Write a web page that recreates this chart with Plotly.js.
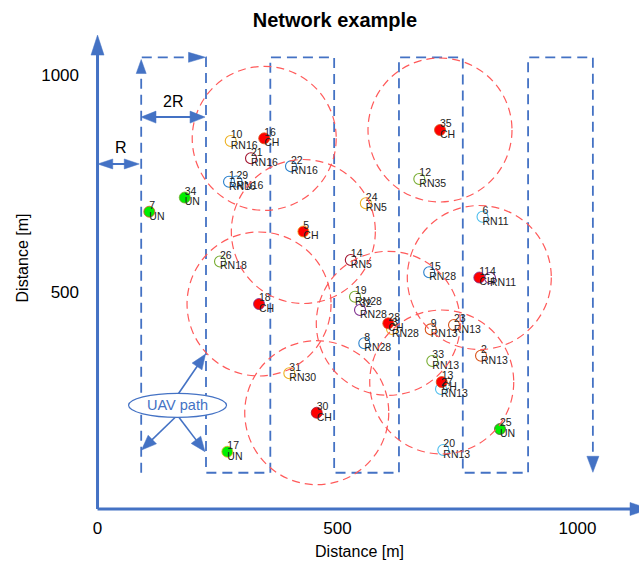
<!DOCTYPE html>
<html>
<head>
<meta charset="utf-8">
<script src="https://cdn.plot.ly/plotly-3.0.1.min.js"></script>
<style>html,body{margin:0;padding:0;background:#fff}#chart{width:639px;height:571px}</style>
</head>
<body>
<div id="chart"></div>
<script>
// ---------- data (metres) ----------
const nodeIds = [1,2,3,4,5,6,7,8,9,10,11,12,13,14,15,16,17,18,19,20,21,22,23,24,25,26,27,28,29,30,31,32,33,34,35];
const nodeX = [274.0,799.0,613.5,817.7,428.8,802.1,107.9,555.8,694.2,277.5,795.4,670.4,717.1,527.7,691.0,347.3,270.4,336.5,536.5,720.4,319.8,403.1,742.7,559.0,838.5,255.2,715.6,605.8,289.6,456.7,399.6,546.9,697.5,181.7,713.5];
const nodeY = [754.1,353.2,414.7,532.3,639.4,673.5,685.0,381.8,414.0,847.9,533.4,760.4,292.6,573.7,545.4,854.1,132.0,472.4,489.2,135.9,808.1,789.6,424.0,704.4,184.3,570.3,276.5,427.9,754.6,221.9,312.7,458.5,341.0,717.7,873.3];
const nodeRole = ['RN16','RN13','RN28','RN11','CH','RN11','UN','RN28','RN13','RN16','CH','RN35','CH','RN5','RN28','CH','UN','CH','RN28','RN13','RN16','RN16','RN13','RN5','UN','RN18','RN13','CH','RN16','CH','RN30','RN28','RN13','UN','CH'];
const nodeColor = ['#2a80cc','#D95319','#EDB120','#7E2F8E','#EDB120','#4DBEEE','#D95319','#2a80cc','#D95319','#EDB120','#7E2F8E','#77AC30','#D95319','#A2142F','#2a80cc','#D95319','#EDB120','#7E2F8E','#77AC30','#4DBEEE','#A2142F','#2a80cc','#D95319','#EDB120','#5a5a3a','#77AC30','#4DBEEE','#D95319','#2a80cc','#A2142F','#EDB120','#7E2F8E','#77AC30','#77AC30','#D95319'];
// UAV path columns (x, metres) and turning heights (y, metres)
const pathColumnsX = [91, 226, 360, 493, 628, 761, 897, 1032];
const pathTopY = 1040.8;
const pathBottomY = 83.6;
const xTickVals = [0, 500, 1000];
const yTickVals = [500, 1000];

// ---------- geometry of the plot ----------
const W = 639, H = 571, ML = 80, MR = 0, MT = 0, MB = 55;
const PW = W - ML - MR, PH = H - MT - MB;
const sx = 0.48, sy = 0.434;           // px per metre
const X0 = -36.5, X1 = X0 + PW / sx;
const Y0 = -16.1, Y1 = Y0 + PH / sy;
const BLUE = '#4472C4';
const FONT = 'Liberation Sans, Arial, sans-serif';

function P(x, y) { return x.toFixed(2) + ',' + y.toFixed(2); }
function head(tx, ty, dx, dy, len, hw, color) {
  const vx = dx * sx, vy = dy * sy, n = Math.hypot(vx, vy);
  const ux = vx / n, uy = vy / n;
  const bx = -ux * len, by = -uy * len, qx = -uy * hw, qy = ux * hw;
  const pt = (ox, oy) => P(tx + ox / sx, ty + oy / sy);
  return {type: 'path', xref: 'x', yref: 'y', layer: 'above',
    path: 'M' + pt(0, 0) + ' L' + pt(bx + qx, by + qy) + ' L' + pt(bx - qx, by - qy) + ' Z',
    fillcolor: color, line: {color: color, width: 0.5}};
}
function arrow(x0, y0, x1, y1, o) {
  const out = [];
  const vx = (x1 - x0) * sx, vy = (y1 - y0) * sy, n = Math.hypot(vx, vy);
  const ux = vx / n, uy = vy / n;
  const back = o.len * 0.7;
  let sxp = x0, syp = y0;
  if (o.both) { sxp = x0 + ux * back / sx; syp = y0 + uy * back / sy; }
  const exp = x1 - ux * back / sx, eyp = y1 - uy * back / sy;
  out.push({type: 'line', xref: 'x', yref: 'y', layer: 'above', x0: sxp, y0: syp, x1: exp, y1: eyp,
    line: {color: o.color, width: o.width}});
  out.push(head(x1, y1, x1 - x0, y1 - y0, o.len, o.hw, o.color));
  if (o.both) out.push(head(x0, y0, x0 - x1, y0 - y1, o.len, o.hw, o.color));
  return out;
}

// ---------- traces ----------
const pathX = [], pathY = [];
pathColumnsX.forEach((cx, i) => {
  const up = i % 2 === 0;
  if (up) { pathX.push(cx, cx); pathY.push(pathBottomY, pathTopY); }
  else { pathX.push(cx, cx); pathY.push(pathTopY, pathBottomY); }
});
const pathTrace = {x: pathX, y: pathY, mode: 'lines', type: 'scatter', hoverinfo: 'skip',
  line: {color: BLUE, width: 1.8, dash: '10px,6px'}};

function pick(role) {
  const idx = nodeIds.map((_, i) => i).filter(i => role === 'RN' ? nodeRole[i].startsWith('RN') : nodeRole[i] === role);
  return {x: idx.map(i => nodeX[i]), y: idx.map(i => nodeY[i]), c: idx.map(i => nodeColor[i])};
}
const rn = pick('RN'), ch = pick('CH'), un = pick('UN');
const rnTrace = {x: rn.x, y: rn.y, mode: 'markers', type: 'scatter',
  marker: {symbol: 'circle-open', size: 11, color: rn.c, line: {width: 1.1}}};
const chTrace = {x: ch.x, y: ch.y, mode: 'markers', type: 'scatter',
  marker: {symbol: 'circle', size: 11, color: '#FF0000', line: {color: ch.c, width: 0.8}}};
const unTrace = {x: un.x, y: un.y, mode: 'markers', type: 'scatter',
  marker: {symbol: 'circle', size: 11, color: '#00EE00', line: {color: un.c, width: 0.8}}};
const idTrace = {x: nodeX, y: nodeY, mode: 'text', type: 'scatter', text: nodeIds.map(String),
  textposition: 'top right', textfont: {family: FONT, size: 10.5, color: '#222'}, hoverinfo: 'skip'};
const roleTrace = {x: nodeX, y: nodeY, mode: 'text', type: 'scatter', text: nodeRole,
  textposition: 'bottom right', textfont: {family: FONT, size: 10.5, color: '#222'}, hoverinfo: 'skip'};

// ---------- shapes ----------
const shapes = [];
// coverage circles around cluster heads
const rX = 72 / sx, rY = 72 / sy;
ch.x.forEach((cx, i) => {
  const cy = ch.y[i];
  shapes.push({type: 'circle', xref: 'x', yref: 'y', layer: 'above', x0: cx - rX, x1: cx + rX, y0: cy - rY, y1: cy + rY,
    line: {color: '#FF5A5A', width: 1.2, dash: '8px,5px'}, fillcolor: 'rgba(0,0,0,0)'});
});
// axes
shapes.push(...arrow(0, 0, 0, 1092, {len: 20, hw: 6.5, width: 3, color: BLUE}));
shapes.push(...arrow(0, 0, 1151, 0, {len: 20, hw: 6.5, width: 3, color: BLUE}));
// R and 2R
shapes.push(...arrow(0.5, 795, 87, 795, {len: 15, hw: 5, width: 2, color: BLUE, both: true}));
shapes.push(...arrow(90.6, 903, 224, 903, {len: 15, hw: 6, width: 2, color: BLUE, both: true}));
// path arrows
shapes.push(head(pathColumnsX[0], 1035.7, 0, 1, 14, 5, BLUE));
shapes.push(head(225, pathTopY, 1, 0, 17, 5, BLUE));
shapes.push(head(pathColumnsX[7], pathBottomY + 1, 0, -1, 16, 6, BLUE));
// UAV path callout arrows
shapes.push(...arrow(166.3, 262, 225, 357, {len: 15, hw: 6, width: 1.6, color: BLUE}));
shapes.push(...arrow(166.3, 216, 91.7, 136, {len: 15, hw: 6, width: 1.6, color: BLUE}));
shapes.push(...arrow(166.3, 216, 224, 132, {len: 15, hw: 6, width: 1.6, color: BLUE}));
// ellipse
shapes.push({type: 'circle', xref: 'x', yref: 'y', layer: 'above', x0: 64.6, x1: 268.8, y0: 211.3, y1: 266.6,
  line: {color: BLUE, width: 1.2}, fillcolor: '#ffffff'});

const annotations = [
  {x: 49, y: 834, xref: 'x', yref: 'y', text: 'R', showarrow: false, font: {family: FONT, size: 16, color: '#000'}},
  {x: 157.3, y: 940, xref: 'x', yref: 'y', text: '2R', showarrow: false, font: {family: FONT, size: 16, color: '#000'}},
  {x: 166.7, y: 239, xref: 'x', yref: 'y', text: 'UAV path', showarrow: false, font: {family: FONT, size: 14.5, color: BLUE}}
];

const layout = {
  width: W, height: H, margin: {l: ML, r: MR, t: MT, b: MB},
  paper_bgcolor: '#fff', plot_bgcolor: '#fff', showlegend: false,
  title: {text: '<b>Network example</b>', font: {family: FONT, size: 20, color: '#000'},
    x: 335 / W, xanchor: 'center', y: 1 - 20 / H, yanchor: 'middle'},
  xaxis: {range: [X0, X1], tickvals: xTickVals, ticktext: xTickVals.map(String), showgrid: false, zeroline: false,
    showline: false, ticks: '', tickfont: {family: FONT, size: 17, color: '#000'},
    title: {text: 'Distance [m]', font: {family: FONT, size: 16, color: '#000'}, standoff: 8}, fixedrange: true},
  yaxis: {range: [Y0, Y1], tickvals: yTickVals, ticktext: yTickVals.map(String), showgrid: false, zeroline: false,
    showline: false, ticks: '', tickfont: {family: FONT, size: 17, color: '#000'},
    title: {text: 'Distance [m]', font: {family: FONT, size: 16, color: '#000'}, standoff: 8}, fixedrange: true},
  shapes: shapes, annotations: annotations
};

Plotly.newPlot('chart', [pathTrace, rnTrace, chTrace, unTrace, idTrace, roleTrace], layout, {displayModeBar: false, staticPlot: true});
</script>
</body>
</html>
